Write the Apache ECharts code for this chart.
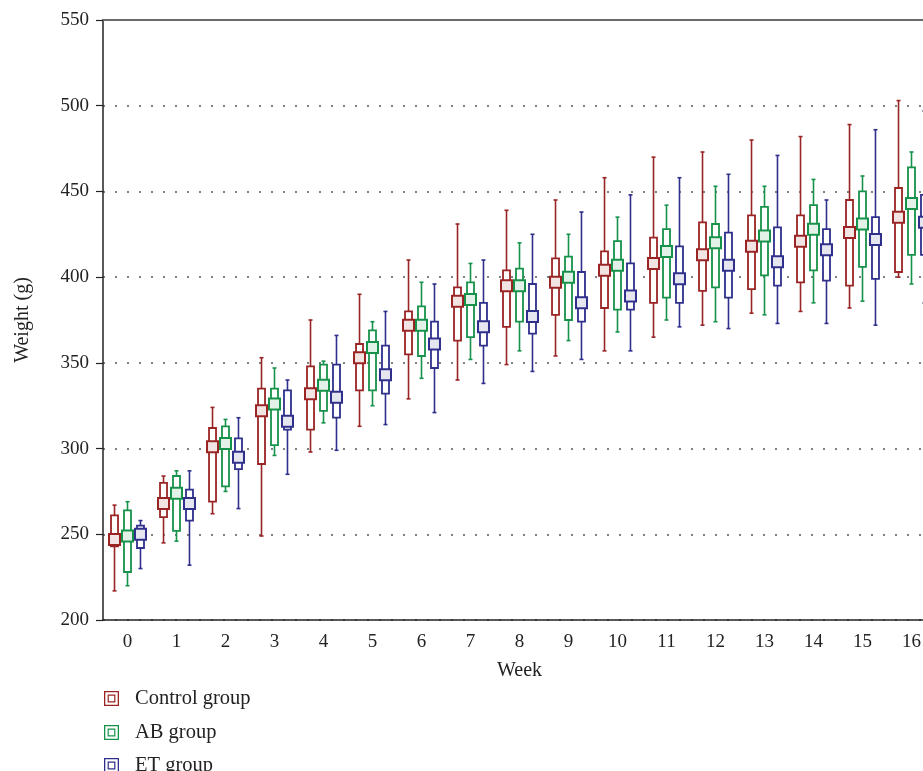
<!DOCTYPE html>
<html>
<head>
<meta charset="utf-8">
<script src="https://cdn.jsdelivr.net/npm/echarts@6/dist/echarts.min.js"></script>
<style>
  html, body { margin: 0; padding: 0; background: #fff; }
  #chart { width: 923px; height: 771px; }
</style>
</head>
<body>
<div id="chart"></div>
<script>
// Weekly body weight by group: [whisker low, box low, centre, box high, whisker high]
const weeks = ['0','1','2','3','4','5','6','7','8','9','10','11','12','13','14','15','16'];

const controlGroup = [
  [217, 243, 247, 261, 267],
  [245, 260, 268, 280, 284],
  [262, 269, 301, 312, 324],
  [249, 291, 322, 335, 353],
  [298, 311, 332, 348, 375],
  [313, 334, 353, 361, 390],
  [329, 355, 372, 380, 410],
  [340, 363, 386, 394, 431],
  [349, 371, 395, 404, 439],
  [354, 378, 397, 411, 445],
  [357, 382, 404, 415, 458],
  [365, 385, 408, 423, 470],
  [372, 392, 413, 432, 473],
  [379, 393, 418, 436, 480],
  [380, 397, 421, 436, 482],
  [382, 395, 426, 445, 489],
  [400, 403, 435, 452, 503]
];

const abGroup = [
  [220, 228, 249, 264, 269],
  [246, 252, 274, 284, 287],
  [275, 278, 303, 313, 317],
  [296, 302, 326, 335, 347],
  [315, 322, 337, 349, 351],
  [325, 334, 359, 369, 374],
  [341, 354, 372, 383, 397],
  [352, 365, 387, 397, 408],
  [357, 374, 395, 405, 420],
  [363, 375, 400, 412, 425],
  [368, 381, 407, 421, 435],
  [375, 388, 415, 428, 442],
  [374, 394, 420, 431, 453],
  [378, 401, 424, 441, 453],
  [385, 404, 428, 442, 457],
  [386, 406, 431, 450, 459],
  [396, 413, 443, 464, 473]
];

const etGroup = [
  [230, 242, 250, 255, 258],
  [232, 258, 268, 276, 287],
  [265, 288, 295, 306, 318],
  [285, 311, 316, 334, 340],
  [299, 318, 330, 349, 366],
  [314, 332, 343, 360, 380],
  [321, 347, 361, 374, 396],
  [338, 360, 371, 385, 410],
  [345, 367, 377, 396, 425],
  [352, 374, 385, 403, 438],
  [357, 381, 389, 408, 448],
  [371, 385, 399, 418, 458],
  [370, 388, 407, 426, 460],
  [373, 395, 409, 429, 471],
  [373, 398, 416, 428, 445],
  [372, 399, 422, 435, 486],
  [385, 413, 432, 448, 497]
];

const groupNames = ['Control group', 'AB group', 'ET group'];
const groupColors = ['#9a2424', '#17924a', '#2f2f8c'];
const groupTints = ['rgba(154,36,36,0.12)', 'rgba(23,146,74,0.12)', 'rgba(47,47,140,0.12)'];
const groupOffsets = [-0.265, 0, 0.265];
const groupData = [controlGroup, abGroup, etGroup];

const FONT = '"Liberation Serif", "DejaVu Serif", serif';

// legend swatch: outlined square with a smaller outlined square inside
const SWATCH = 'path://M0,0H15V15H0Z M1.3,1.3V13.7H13.7V1.3Z M3.6,3.6H11.4V11.4H3.6Z M4.8,4.8V10.2H10.2V4.8Z';

function boxRenderer(offset, color, tint) {
  return function (params, api) {
    const i = api.value(0);
    const band = api.size([1, 0])[0];
    const cx = api.coord([i, 300])[0] + offset * band;
    const py = v => api.coord([i, v])[1];
    const lo = py(api.value(1));
    const q1 = py(api.value(2));
    const mid = py(api.value(3));
    const q3 = py(api.value(4));
    const hi = py(api.value(5));
    const boxW = 7, capW = 4, sq = 11;
    const stroke = { stroke: color, lineWidth: 1.6 };
    return {
      type: 'group',
      children: [
        { type: 'line', shape: { x1: cx, y1: hi, x2: cx, y2: lo }, style: stroke },
        { type: 'line', shape: { x1: cx - capW / 2, y1: hi, x2: cx + capW / 2, y2: hi }, style: stroke },
        { type: 'line', shape: { x1: cx - capW / 2, y1: lo, x2: cx + capW / 2, y2: lo }, style: stroke },
        { type: 'rect', shape: { x: cx - boxW / 2, y: q3, width: boxW, height: q1 - q3 },
          style: { fill: '#fff', stroke: color, lineWidth: 1.8 } },
        { type: 'rect', shape: { x: cx - sq / 2, y: mid - sq / 2, width: sq, height: sq },
          style: { fill: '#fff', stroke: color, lineWidth: 2 } },
        { type: 'rect', shape: { x: cx - sq / 2 + 1, y: mid - sq / 2 + 1, width: sq - 2, height: sq - 2 },
          style: { fill: tint } }
      ]
    };
  };
}

const series = groupNames.map((name, g) => ({
  name: name,
  type: 'custom',
  xAxisIndex: 0,
  yAxisIndex: 0,
  itemStyle: { color: groupColors[g] },
  renderItem: boxRenderer(groupOffsets[g], groupColors[g], groupTints[g]),
  encode: { x: 0, y: [1, 2, 3, 4, 5] },
  data: groupData[g].map((row, i) => [i].concat(row)),
  z: 3 + g
}));

// one legend block per group, stacked below the axis
const legendTops = [688, 722, 755];
const legends = groupNames.map((n, g) => ({
  orient: 'vertical',
  left: 104,
  top: legendTops[g],
  padding: 0,
  itemWidth: 15,
  itemHeight: 15,
  selectedMode: false,
  data: [{ name: n, icon: SWATCH }],
  textStyle: { fontFamily: FONT, fontSize: 20.5, color: '#222', padding: [0, 0, 0, 11] }
}));

const chart = echarts.init(document.getElementById('chart'), null, { renderer: 'canvas' });
chart.setOption({
  animation: false,
  backgroundColor: '#fff',
  color: groupColors,
  textStyle: { fontFamily: FONT },
  // the week axis runs past the right edge of the canvas
  grid: { left: 103, width: 833, top: 20, bottom: 151, containLabel: false, outerBoundsMode: 'none' },
  legend: legends,
  xAxis: [
    {
      type: 'category',
      data: weeks,
      position: 'bottom',
      name: 'Week',
      nameLocation: 'middle',
      nameGap: 41,
      nameTextStyle: { fontFamily: FONT, fontSize: 20, color: '#222' },
      axisLine: { lineStyle: { color: '#222', width: 1.5 } },
      axisTick: { alignWithLabel: true, length: 7, lineStyle: { color: '#222', width: 1.2 } },
      axisLabel: { fontFamily: FONT, fontSize: 19, color: '#222', margin: 13 },
      splitLine: { show: false }
    },
    {
      type: 'category',
      data: weeks,
      position: 'top',
      axisLine: { lineStyle: { color: '#6a6a6a', width: 2 } },
      axisTick: { show: false },
      axisLabel: { show: false },
      splitLine: { show: false }
    }
  ],
  yAxis: {
    type: 'value',
    min: 200,
    max: 550,
    interval: 50,
    name: 'Weight (g)',
    nameLocation: 'middle',
    nameRotate: 90,
    nameGap: 70,
    nameTextStyle: { fontFamily: FONT, fontSize: 20, color: '#222' },
    axisLine: { show: true, lineStyle: { color: '#222', width: 1.5 } },
    axisTick: { show: true, length: 7, lineStyle: { color: '#222', width: 1.2 } },
    axisLabel: { fontFamily: FONT, fontSize: 19, color: '#222', margin: 14 },
    splitLine: { show: true, lineStyle: { color: '#555', width: 1.5, type: [2, 10] } }
  },
  series: series
});
</script>
</body>
</html>
